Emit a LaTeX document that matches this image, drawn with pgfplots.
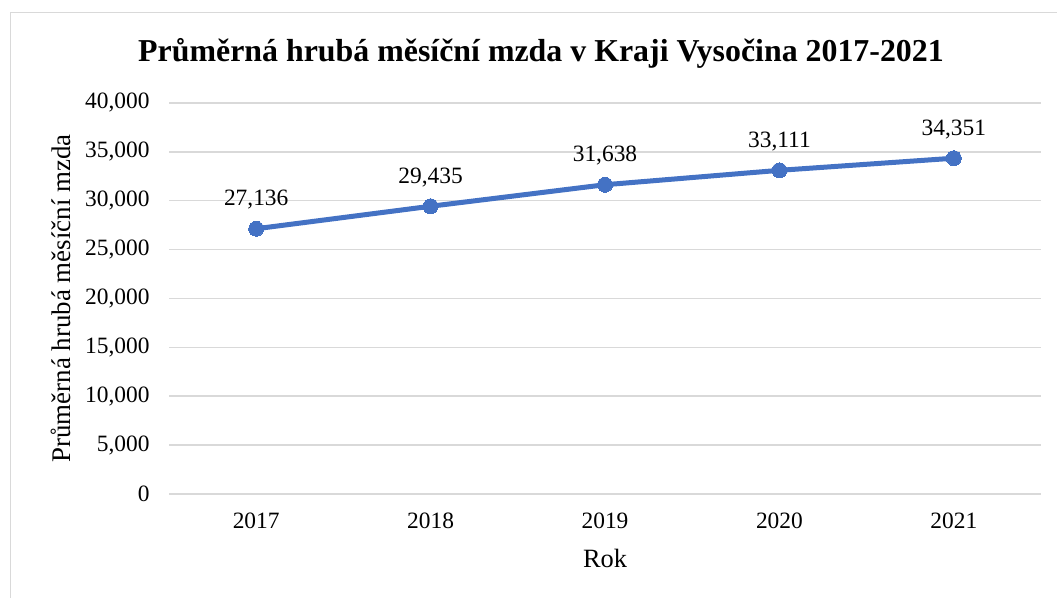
\documentclass[border=0pt]{standalone}
\usepackage{pgfplots}
\pgfplotsset{compat=1.18}
\usepackage{fontspec}
\setmainfont{Liberation Serif}
\definecolor{lineblue}{HTML}{4472C4}
\definecolor{gridgray}{HTML}{D9D9D9}
\begin{document}
\begin{tikzpicture}[x=1bp,y=1bp]
\path[use as bounding box] (0,0) rectangle (1057,598);
\draw[gridgray, line width=1.5bp] (10.5,-20) -- (10.5,585.5) -- (1080,585.5);
\begin{axis}[
  at={(169bp,104bp)}, anchor=south west,
  scale only axis, width=872bp, height=391bp,
  xmin=-0.5, xmax=4.5, ymin=0, ymax=40000,
  xtick={0,1,2,3,4}, xticklabels={2017,2018,2019,2020,2021},
  ytick={0,5000,...,40000},
  scaled y ticks=false,
  /pgf/number format/.cd, 1000 sep={,}, assume math mode=true, /pgfplots/.cd,
  ymajorgrids, grid style={gridgray, line width=1.5bp},
  axis line style={draw=none},
  major tick length=0pt,
  tick label style={font=\fontsize{23.5}{28}\selectfont},
  yticklabel style={xshift=-16bp},
  xticklabel style={yshift=-15bp},
  ylabel={Průměrná hrubá měsíční mzda},
  xlabel={Rok},
  every axis y label/.style={font=\fontsize{27}{32}\selectfont, at={(axis description cs:-0.1245,0.5)}, rotate=90, anchor=center},
  every axis x label/.style={font=\fontsize{26.5}{32}\selectfont, at={(axis description cs:0.5,-0.1637)}, anchor=center},
  title={Průměrná hrubá měsíční mzda v Kraji Vysočina 2017-2021},
  title style={font=\bfseries\fontsize{32}{38}\selectfont, at={(axis description cs:0.4266,1.112)}, anchor=center},
  clip=false,
]
\addplot[color=lineblue, line width=5bp, mark=*, mark size=7.5bp, mark options={fill=lineblue, draw=lineblue, line width=0pt},
  nodes near coords, every node near coord/.append style={font=\fontsize{23.5}{28}\selectfont, black, anchor=south, yshift=16bp},
  point meta=explicit symbolic]
  coordinates {(0,27136)[27,136] (1,29435)[29,435] (2,31638)[31,638] (3,33111)[33,111] (4,34351)[34,351]};
\end{axis}
\end{tikzpicture}
\end{document}
